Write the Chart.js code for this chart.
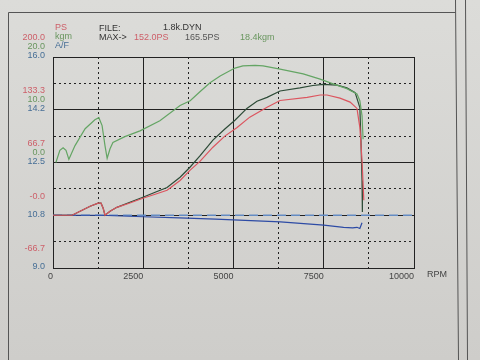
<!DOCTYPE html>
<html>
<head>
<meta charset="utf-8">
<script src="https://cdn.jsdelivr.net/npm/chart.js@4/dist/chart.umd.min.js"></script>
<style>
html, body { margin: 0; padding: 0; background: #d7d7d4; }
#wrap { width: 480px; height: 360px; }
</style>
</head>
<body>
<div id="wrap"><canvas id="dyno"></canvas></div>
<script>
// tick labels
var rpmTicks = ["0", "2500", "5000", "7500", "10000"];
var psTicks = ["-66.7", "-0.0", "66.7", "133.3", "200.0"];
var kgmTickValues = [0, 10, 20];
var kgmTicks = ["0.0", "10.0", "20.0"];
var afTickValues = [9, 10.75, 12.5, 14.25, 16];
var afTicks = ["9.0", "10.8", "12.5", "14.2", "16.0"];

// torque (kgm)
var torqueRpm = [80, 190, 280, 360, 440, 610, 890, 1160, 1270, 1360, 1440, 1500, 1580, 1660, 1990, 2410, 2960, 3520, 3800, 4070, 4350, 4630, 5040, 5260, 5600, 5820, 6290, 6930, 7400, 7760, 8140, 8420, 8500, 8560, 8590];
var torqueKgm = [0, 2.3, 2.8, 2.3, 0.6, 3.2, 6.4, 8.1, 8.5, 7.0, 3.2, 0.8, 2.6, 3.8, 4.9, 6.0, 7.9, 10.8, 11.7, 13.4, 15.1, 16.4, 17.9, 18.3, 18.4, 18.3, 17.7, 16.8, 15.8, 14.9, 14.0, 13.0, 11.7, 8.9, 4.4];

// power 165.5PS
var enginePsRpm = [0, 530, 750, 1030, 1250, 1330, 1390, 1440, 1580, 1770, 2130, 2490, 2830, 3160, 3520, 3800, 4070, 4430, 4760, 5040, 5370, 5650, 5930, 6290, 6840, 7200, 7480, 7870, 8140, 8370, 8500, 8530, 8560, 8570];
var enginePs = [0, 0, 5, 11.4, 15.2, 15.2, 8.8, 0, 5, 10, 16.4, 22.8, 29, 35, 48, 61, 75, 95, 109, 120, 135, 144, 149, 157, 161, 164, 165.5, 164.5, 161, 155, 136, 95, 44, 4];

// power 152.0PS
var wheelPsRpm = [0, 530, 750, 1030, 1250, 1330, 1390, 1440, 1580, 1770, 2130, 2490, 2830, 3160, 3520, 3800, 4070, 4430, 4760, 5100, 5450, 5930, 6290, 7040, 7400, 7590, 7950, 8230, 8420, 8500, 8560, 8610];
var wheelPs = [0, 0, 5, 11.4, 15.2, 15.2, 8.8, 0, 5, 10, 15.5, 21.5, 26.5, 31.6, 44, 57, 68, 86, 100, 111, 124, 136.5, 145, 149, 152, 152, 148, 143, 135, 111, 69.5, 19];

// A/F
var afRpm = [0, 1300, 2500, 3500, 4500, 6300, 7500, 8050, 8300, 8420, 8500, 8560];
var afRatio = [10.75, 10.75, 10.70, 10.66, 10.62, 10.53, 10.42, 10.35, 10.33, 10.35, 10.31, 10.5];
var afRefRpm = [0, 10000];
var afRef = [10.75, 10.75];

function pts(xs, ys) {
    var out = [];
    for (var i = 0; i < xs.length; i++) {
        out.push({ x: xs[i], y: ys[i] });
    }
    return out;
}

var FONT = "Liberation Sans";
var RED = "rgb(205, 95, 105)";
var GREEN = "rgb(105, 150, 95)";
var BLUE = "rgb(70, 110, 150)";

var paperPlugin = {
    id: "paper",
    afterLayout: function (chart) {
        // the three left axes share one column of labels
        ["ps", "kgm", "af"].forEach(function (id) {
            var s = chart.scales[id];
            s.left = 0;
            s.right = chart.chartArea.left;
            s.width = s.right;
        });
    },
    beforeDraw: function (chart) {
        var c = chart.ctx;
        var g = c.createLinearGradient(0, 0, 0, chart.height);
        g.addColorStop(0, "#dcdcd9");
        g.addColorStop(1, "#cecdca");
        c.save();
        c.fillStyle = g;
        c.fillRect(0, 0, chart.width, chart.height);
        // paper frame
        c.strokeStyle = "#555";
        c.lineWidth = 1;
        c.beginPath();
        c.moveTo(8.5, 12.5);
        c.lineTo(8.5, chart.height);
        c.moveTo(8.5, 12.5);
        c.lineTo(455.5, 12.5);
        c.moveTo(455.5, 0);
        c.lineTo(458.5, chart.height);
        c.moveTo(465.5, 0);
        c.lineTo(467.5, chart.height);
        c.stroke();
        c.restore();
    },
    afterDraw: function (chart) {
        var c = chart.ctx;
        c.save();
        c.font = "9px '" + FONT + "'";
        c.textBaseline = "middle";
        c.textAlign = "left";
        var items = [
            ["PS", 55, 28, RED],
            ["kgm", 55, 37, GREEN],
            ["A/F", 55, 46, BLUE],
            ["FILE:", 99, 29, "#333"],
            ["1.8k.DYN", 163, 28, "#333"],
            ["MAX->", 99, 38, "#333"],
            ["152.0PS", 134, 38, RED],
            ["165.5PS", 185, 38, "#555"],
            ["18.4kgm", 240, 38, GREEN],
            ["RPM", 427, 275, "#444"]
        ];
        items.forEach(function (t) {
            c.fillStyle = t[3];
            c.fillText(t[0], t[1], t[2]);
        });
        c.restore();
    }
};

var ctx = document.getElementById("dyno");
var dynoChart = new Chart(ctx, {
    type: "scatter",
    data: {
        datasets: [
            {
                label: "kgm",
                data: pts(torqueRpm, torqueKgm),
                yAxisID: "kgm",
                borderColor: "rgb(100, 165, 100)",
                borderWidth: 1.2,
            },
            {
                label: "PS 152.0",
                data: pts(wheelPsRpm, wheelPs),
                yAxisID: "ps",
                borderColor: "rgb(220, 85, 95)",
                borderWidth: 1.2,
            },
            {
                label: "PS 165.5",
                data: pts(enginePsRpm, enginePs),
                yAxisID: "ps",
                borderColor: "rgb(45, 75, 55)",
                borderWidth: 1.2,
            },
            {
                label: "A/F",
                data: pts(afRpm, afRatio),
                yAxisID: "af",
                borderColor: "rgb(45, 75, 165)",
                borderWidth: 1.2,
            },
            {
                label: "A/F ref",
                data: pts(afRefRpm, afRef),
                yAxisID: "af",
                borderColor: "rgb(100, 140, 195)",
                borderWidth: 1.5,
                borderDash: [9, 5],
            },
        ],
    },
    options: {
        responsive: true,
        maintainAspectRatio: false,
        animation: false,
        showLine: true,
        elements: {
            point: { radius: 0 },
            line: { tension: 0 },
        },
        layout: {
            padding: { left: 53, right: 66, top: 57, bottom: 72 },
        },
        plugins: {
            legend: { display: false },
            tooltip: { enabled: false },
        },
        scales: {
            x: {
                type: "linear",
                min: 0,
                max: 10000,
                afterFit: function (s) { s.height = 20; },
                grid: { color: "#222", lineWidth: 1, drawTicks: false },
                border: {
                    display: true,
                    color: "#222",
                    dash: function (c) { return c.index % 2 ? [2, 3] : []; },
                },
                ticks: {
                    stepSize: 1250,
                    autoSkip: false,
                    maxRotation: 0,
                    align: "end",
                    padding: 3,
                    color: "#444",
                    font: { family: FONT, size: 9 },
                    callback: function (v, i) { return i % 2 ? "" : rpmTicks[i / 2]; },
                },
            },
            ps: {
                type: "linear",
                position: "left",
                min: -200 / 3,
                max: 200,
                afterFit: function (s) { s.width = 0; },
                grid: { color: "#222", lineWidth: 1, drawTicks: false },
                border: {
                    display: true,
                    color: "#222",
                    dash: function (c) { return c.index % 2 ? [2, 3] : []; },
                },
                ticks: {
                    stepSize: 100 / 3,
                    autoSkip: false,
                    padding: 8,
                    labelOffset: -19,
                    color: RED,
                    font: { family: FONT, size: 9 },
                    callback: function (v, i) { return i % 2 ? "" : psTicks[i / 2]; },
                },
            },
            kgm: {
                type: "linear",
                position: "left",
                min: -20,
                max: 20,
                afterFit: function (s) { s.width = 0; },
                afterBuildTicks: function (s) {
                    s.ticks = kgmTickValues.map(function (v) { return { value: v }; });
                },
                grid: { display: false, drawTicks: false },
                border: { display: false },
                ticks: {
                    autoSkip: false,
                    padding: 8,
                    labelOffset: -10,
                    color: GREEN,
                    font: { family: FONT, size: 9 },
                    callback: function (v, i) { return kgmTicks[i]; },
                },
            },
            af: {
                type: "linear",
                position: "left",
                min: 9,
                max: 16,
                afterFit: function (s) { s.width = 0; },
                afterBuildTicks: function (s) {
                    s.ticks = afTickValues.map(function (v) { return { value: v }; });
                },
                grid: { display: false, drawTicks: false },
                border: { display: false },
                ticks: {
                    autoSkip: false,
                    padding: 8,
                    labelOffset: -1,
                    color: BLUE,
                    font: { family: FONT, size: 9 },
                    callback: function (v, i) { return afTicks[i]; },
                },
            },
        },
    },
    plugins: [paperPlugin],
});
</script>
</body>
</html>
